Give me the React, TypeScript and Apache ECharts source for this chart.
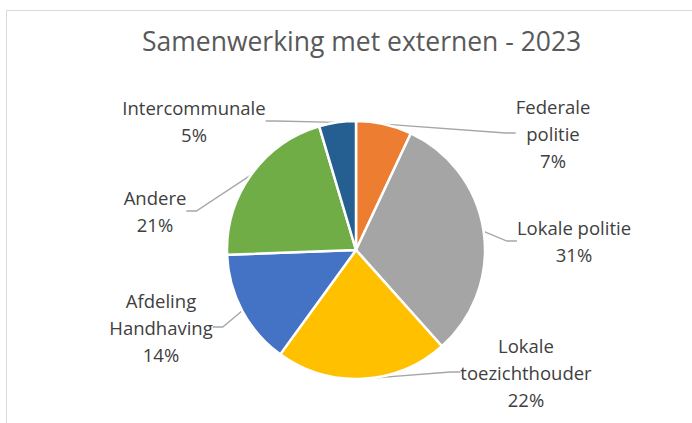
import React, { useEffect, useRef } from "react";
import * as echarts from "echarts";

const TITLE = "Samenwerking met externen - 2023";
const categories = [
  "Federale\npolitie",
  "Lokale politie",
  "Lokale\ntoezichthouder",
  "Afdeling\nHandhaving",
  "Andere",
  "Intercommunale",
];
const values = [7.0, 31.4, 21.6, 14.4, 21.0, 4.6];
const colors = ["#ED7D31", "#A5A5A5", "#FFC000", "#4472C4", "#70AD47", "#255E91"];
// label block centres (layout styling, not data)
const labelCentres: [number, number][] = [
  [553, 133],
  [574, 241],
  [526, 372],
  [161, 327],
  [155, 211],
  [194, 121],
];

export default function App() {
  const ref = useRef<HTMLDivElement>(null);
  useEffect(() => {
    const chart = echarts.init(ref.current!, null, { renderer: "svg" });
    chart.setOption({
      animation: false,
      backgroundColor: "#ffffff",
      title: {
        text: TITLE,
        left: 137,
        top: 22,
        textStyle: {
          fontFamily: "Open Sans",
          fontSize: 26.5,
          fontWeight: "normal",
          color: "#595959",
        },
      },
      graphic: [
        {
          type: "rect",
          shape: { x: 6.5, y: 10.5, width: 720, height: 440 },
          style: { fill: "none", stroke: "#d9d9d9", lineWidth: 1 },
          silent: true,
        },
      ],
      series: [
        {
          type: "pie",
          center: [356, 250],
          radius: 129,
          startAngle: 90,
          clockwise: true,
          avoidLabelOverlap: false,
          itemStyle: { borderColor: "#ffffff", borderWidth: 2.5 },
          label: {
            show: true,
            position: "outside",
            fontFamily: "Open Sans",
            fontSize: 18.5,
            lineHeight: 27,
            color: "#404040",
            align: "center",
            formatter: (p: any) => `${p.name}\n${Math.round(p.percent)}%`,
          },
          labelLine: {
            show: true,
            length: 10,
            length2: 10,
            lineStyle: { color: "#a6a6a6", width: 1.3 },
          },
          labelLayout: (p: any) => {
            const c = labelCentres[p.dataIndex];
            return { x: c[0], y: c[1], align: "center", verticalAlign: "middle" };
          },
          data: categories.map((name, i) => ({
            name,
            value: values[i],
            itemStyle: { color: colors[i] },
          })),
        },
      ],
    });
    return () => chart.dispose();
  }, []);
  return (
    <div
      ref={ref}
      style={{ position: "absolute", left: 0, top: 0, width: 692, height: 423 }}
    />
  );
}
